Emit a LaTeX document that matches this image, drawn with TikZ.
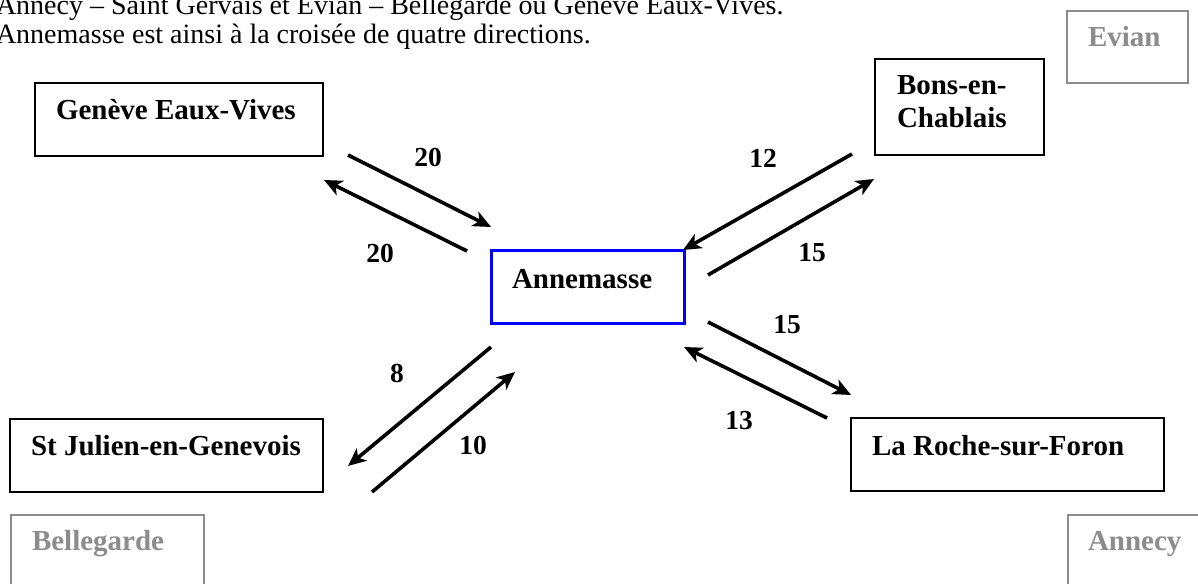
\documentclass[tikz,border=0pt]{standalone}
\usepackage{fontspec}
\setmainfont{Liberation Serif}
\usetikzlibrary{arrows.meta,calc}
\definecolor{boxgray}{RGB}{140,140,140}
\definecolor{annblue}{RGB}{0,0,255}
\begin{document}
\begin{tikzpicture}[x=1pt,y=-1pt,
  every node/.style={inner sep=0pt,outer sep=0pt},
  citybox/.style={draw=black,line width=1.6pt,anchor=north west},
  ghostbox/.style={draw=boxgray,line width=1.8pt,anchor=north west},
  mainbox/.style={draw=annblue,line width=3pt,anchor=north west},
  citytext/.style={anchor=base west,font=\fontsize{29}{33}\selectfont\bfseries},
  ghosttext/.style={anchor=base west,font=\fontsize{29}{33}\selectfont\bfseries,text=boxgray},
  numlabel/.style={font=\fontsize{27.5}{33}\selectfont\bfseries},
  headtext/.style={anchor=base west,font=\fontsize{28}{33}\selectfont},
  flow/.style={line width=3.6pt,-{Stealth[length=18pt,width=16pt,inset=5pt]}}]
\useasboundingbox (0,0) rectangle (1198,583);
\fill[white] (0,0) rectangle (1198,583);
% header
\node[headtext] (h1) at (-4,15) {Annecy -- Saint Gervais et Evian -- Bellegarde ou Genève Eaux-Vives.};
\node[headtext] (h2) at (-4,44) {Annemasse est ainsi à la croisée de quatre directions.};
% boxes
\node[citybox,minimum width=288,minimum height=73] (gen) at (35,83) {};
\node[citytext] (gent) at (56,120) {Genève Eaux-Vives};
\node[mainbox,minimum width=193,minimum height=73] (ann) at (491,250) {};
\node[citytext] (annt) at (512,288) {Annemasse};
\node[citybox,minimum width=169,minimum height=96] (bons) at (875,59) {};
\node[citytext] (bonst1) at (897,95) {Bons-en-};
\node[citytext] (bonst2) at (897,128) {Chablais};
\node[ghostbox,minimum width=121,minimum height=72] (evian) at (1067,11) {};
\node[ghosttext] (eviant) at (1088,47) {Evian};
\node[citybox,minimum width=313,minimum height=73] (stj) at (10,419) {};
\node[citytext] (stjt) at (31,455) {St Julien-en-Genevois};
\node[ghostbox,minimum width=193,minimum height=90] (bel) at (11,515) {};
\node[ghosttext] (belt) at (32,550) {Bellegarde};
\node[citybox,minimum width=313,minimum height=73] (roche) at (851,418) {};
\node[citytext] (rochet) at (872,455) {La Roche-sur-Foron};
\node[ghostbox,minimum width=150,minimum height=90] (annecy) at (1068,515) {};
\node[ghosttext] (annecyt) at (1088,550) {Annecy};
% arrow end points
\coordinate (a1s) at (348,155); \coordinate (a1e) at (491,227);
\coordinate (a2s) at (467,251); \coordinate (a2e) at (324,180);
\coordinate (a3s) at (852,154); \coordinate (a3e) at (683,250);
\coordinate (a4s) at (708,275); \coordinate (a4e) at (874,179);
\coordinate (a5s) at (708,322); \coordinate (a5e) at (851,395);
\coordinate (a6s) at (827,418); \coordinate (a6e) at (684,347);
\coordinate (a7s) at (491,347); \coordinate (a7e) at (348,466);
\coordinate (a8s) at (372,492); \coordinate (a8e) at (515,372);
\draw[flow] (a1s) -- (a1e);
\draw[flow] (a2s) -- (a2e);
\draw[flow] (a3s) -- (a3e);
\draw[flow] (a4s) -- (a4e);
\draw[flow] (a5s) -- (a5e);
\draw[flow] (a6s) -- (a6e);
\draw[flow] (a7s) -- (a7e);
\draw[flow] (a8s) -- (a8e);
% labels
\node[numlabel] (l1) at (428,157) {20};
\node[numlabel] (l2) at (380,253) {20};
\node[numlabel] (l3) at (763,158) {12};
\node[numlabel] (l4) at (812,253) {15};
\node[numlabel] (l5) at (787,325) {15};
\node[numlabel] (l6) at (739,421) {13};
\node[numlabel] (l7) at (397,373) {8};
\node[numlabel] (l8) at (473,445) {10};
\end{tikzpicture}
\end{document}
